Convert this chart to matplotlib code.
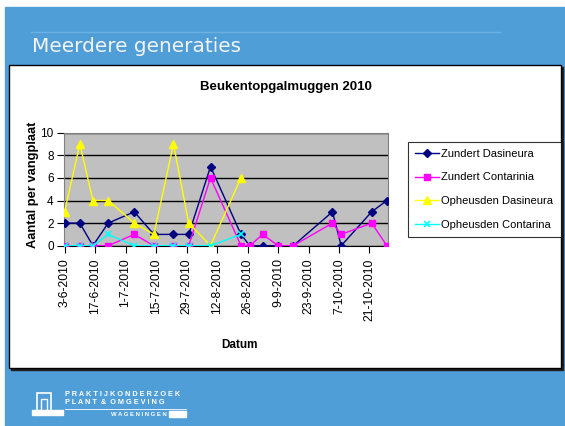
import numpy as np
import pandas as pd
import matplotlib
matplotlib.use('Agg')
import matplotlib.pyplot as plt
from matplotlib.patches import Rectangle

# sample dates
dates = ['2010-06-03', '2010-06-10', '2010-06-16', '2010-06-23', '2010-07-05',
         '2010-07-14', '2010-07-23', '2010-07-30', '2010-08-09', '2010-08-23',
         '2010-08-27', '2010-09-02', '2010-09-09', '2010-09-16', '2010-10-04',
         '2010-10-08', '2010-10-22', '2010-10-29']
zundert_dasineura = [2, 2, 0, 2, 3, 1, 1, 1, 7, 1, 0, 0, 0, 0, 3, 0, 3, 4]
zundert_contarinia = [0, 0, 0, 0, 1, 0, 0, 0, 6, 0, 0, 1, 0, 0, 2, 1, 2, 0]
opheusden_dasineura = [3, 9, 4, 4, 2, 1, 9, 2, 0, 6]
opheusden_contarina = [0, 0, 0, 1, 0, 0, 0, 0, 0, 1]

series_names = ['Zundert Dasineura', 'Zundert Contarinia',
                'Opheusden Dasineura', 'Opheusden Contarina']
tick_start = '2010-06-03'
n_ticks = 11

W, H = 565, 426
blue = '#509ed8'
plt.rcParams['font.family'] = ['Liberation Sans', 'DejaVu Sans']

fig = plt.figure(figsize=(W / 100, H / 100), dpi=100)
fig.patch.set_facecolor('white')

def fx(x):
    return x / W

def fy(y):
    return 1 - y / H

# slide background
bg = fig.add_axes([0, 0, 1, 1], zorder=-10)
bg.set_xlim(0, W)
bg.set_ylim(H, 0)
bg.axis('off')
bg.add_patch(Rectangle((5, 7), W - 5, H - 7, color=blue))
bg.plot([31, 500], [31.5, 31.5], color='#6db0e2', lw=1)
bg.text(32, 47, 'Meerdere generaties', color='#f4f4f4', fontsize=14.4,
        family='DejaVu Sans', va='center', ha='left')
# chart frame with shadow
bg.add_patch(Rectangle((11, 67), 552, 303, color='#202020'))
bg.add_patch(Rectangle((9, 65), 552, 303, facecolor='white', edgecolor='black', lw=1))
# logo
bg.add_patch(Rectangle((37, 393), 14, 18, fill=False, edgecolor='white', lw=1.2))
bg.add_patch(Rectangle((41, 399), 6, 12, fill=False, edgecolor='white', lw=1))
bg.add_patch(Rectangle((32, 410), 31, 5, color='white'))
bg.text(65, 395, 'P R A K T I J K O N D E R Z O E K', color='white', fontsize=5.3,
        fontweight='bold', va='center')
bg.text(65, 403, 'P L A N T  &  O M G E V I N G', color='white', fontsize=5.3,
        fontweight='bold', va='center')
bg.plot([65, 186], [409, 409], color='white', lw=0.6)
bg.text(167, 414, 'W A G E N I N G E N', color='white', fontsize=4.3,
        fontweight='bold', va='center', ha='right')
bg.add_patch(Rectangle((169, 411), 17, 6, color='white'))

# chart
ax = fig.add_axes([fx(63.5), fy(245.7), fx(388) - fx(63.5), fy(132.7) - fy(245.7)])
ax.set_facecolor('#c0c0c0')
d = pd.to_datetime(dates)
d_op = d[:len(opheusden_dasineura)]

ax.plot(d, zundert_dasineura, color='#000080', marker='D', ms=4.5, lw=1,
        label=series_names[0], zorder=3)
ax.plot(d, zundert_contarinia, color='#ff00ff', marker='s', ms=5, lw=1,
        label=series_names[1], zorder=3)
ax.plot(d_op, opheusden_dasineura, color='#ffff00', marker='^', ms=6, lw=1,
        label=series_names[2], zorder=3)
ax.plot(d_op, opheusden_contarina, color='#00ffff', marker='x', ms=4.5, mew=1.2,
        lw=1, label=series_names[3], zorder=3)

ax.set_ylim(0, 10)
ax.set_yticks(range(0, 11, 2))
ax.yaxis.grid(True, color='black', lw=1)
ax.set_axisbelow(True)
ax.set_xlim(d[0] - pd.Timedelta(hours=12), d[-1] + pd.Timedelta(hours=12))
ticks = pd.date_range(tick_start, periods=n_ticks, freq='14D')
ax.set_xticks(ticks)
ax.set_xticklabels([f'{t.day}-{t.month}-{t.year}' for t in ticks], rotation=90)
ax.tick_params(axis='y', labelsize=8.5, length=5, width=0.8, color='black', pad=2)
ax.tick_params(axis='x', labelsize=8.8, length=5, width=0.8, color='black', pad=4)
for s in ['top', 'right', 'left']:
    ax.spines[s].set_color('#808080')
ax.spines['bottom'].set_color('black')

fig.text(fx(33), fy(185), 'Aantal per vangplaat', fontsize=9.3, fontweight='bold',
         rotation=90, ha='center', va='center')
fig.text(fx(239), fy(345), 'Datum', fontsize=8.5, fontweight='bold', ha='center', va='center')
fig.text(fx(286), fy(87), 'Beukentopgalmuggen 2010', fontsize=9.5, fontweight='bold',
         ha='center', va='center')

leg = fig.legend(loc='upper left', bbox_to_anchor=(fx(407.5), fy(141.7)),
                 fontsize=8, frameon=True, fancybox=False, edgecolor='black',
                 handlelength=2.2, handletextpad=0.2, labelspacing=1.22,
                 borderpad=0.65, borderaxespad=0)
leg.get_frame().set_linewidth(0.8)

fig.savefig('out.png', dpi=100)
